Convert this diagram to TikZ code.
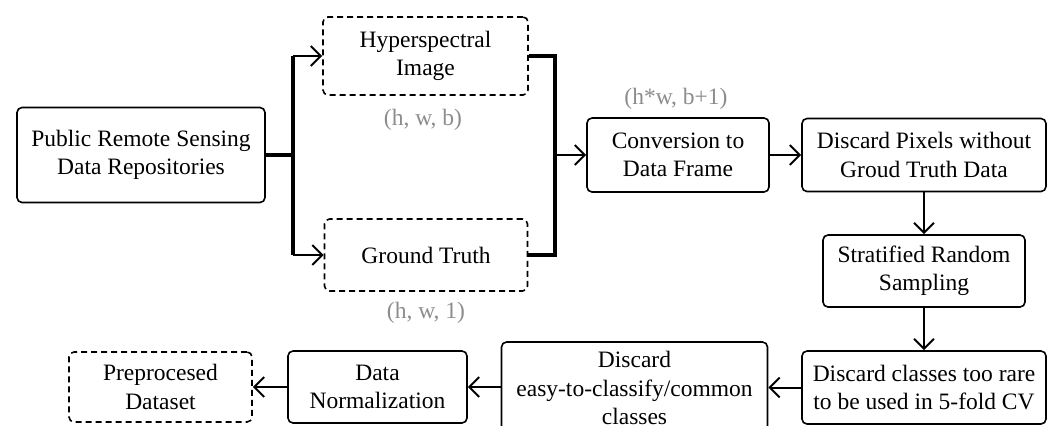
\documentclass[tikz,border=0pt]{standalone}
\usepackage{fontspec}
\setmainfont{Liberation Serif}
\usetikzlibrary{arrows.meta,positioning}
\tikzset{
    raw flow box/.style={rectangle, draw, line width=0.8pt, rounded corners=2.5pt, inner sep=0pt, align=center},
    proc box/.style={raw flow box, black, fill=white},
    data box/.style={raw flow box, black, dash pattern=on 3pt off 2pt},
    dim label/.style={text=black!45},
    bus/.style={line width=1.8pt},
    flow/.style={->, line width=1pt}
}

\begin{document}
\begin{tikzpicture}[x=0.5pt, y=-0.5pt, >={Straight Barb[length=5pt, width=10pt, line width=1pt]},
	font=\fontsize{11.75pt}{14.2pt}\selectfont]
	\clip (0,0) rectangle (1054,425);
		% sources
		\node[proc box, minimum width=124pt, minimum height=47.5pt] (src) at (141,155) {Public Remote Sensing\\Data Repositories};
		\node[data box, minimum width=102.5pt, minimum height=39pt] (hsi) at (425.5,56) {Hyperspectral\\Image};
		\node[data box, minimum width=101.5pt, minimum height=36pt] (gt) at (426,255) {Ground Truth};
		\node[dim label] (hsidim) at (423,120) {(h, w, b)};
		\node[dim label] (gtdim) at (426,313) {(h, w, 1)};
		% processing
		\node[proc box, minimum width=91pt, minimum height=37pt] (conv) at (678,155) {Conversion to\\Data Frame};
		\node[dim label] (convdim) at (676,99) {(h*w, b+1)};
		\node[proc box, minimum width=122pt, minimum height=36.5pt] (dpx) at (924,155) {Discard Pixels without\\Groud Truth Data};
		\node[proc box, minimum width=101pt, minimum height=36pt] (strat) at (924,271) {Stratified Random\\Sampling};
		\node[proc box, minimum width=122pt, minimum height=36.5pt] (dcr) at (924,387.5) {Discard classes too rare\\to be used in 5-fold CV};
		\node[proc box, minimum width=133pt, minimum height=46pt] (dec) at (634.5,388) {Discard\\easy-to-classify/common\\classes};
		\node[proc box, minimum width=89.5pt, minimum height=36pt] (norm) at (377.5,387) {Data\\Normalization};
		\node[data box, minimum width=91.5pt, minimum height=35pt] (out) at (160.5,387) {Preprocesed\\Dataset};
		% fork and merge
		\coordinate (fork) at (293,155);
		\coordinate (merge) at (555,155);
		\draw[bus] (src.east) -- (fork);
		\draw[bus] (fork |- hsi.west) -- (fork |- gt.west);
		\draw[flow] (fork |- hsi.west) -- (hsi.west);
		\draw[flow] (fork |- gt.west) -- (gt.west);
		\draw[bus] (hsi.east) -| (merge) |- (gt.east);
		\draw[flow] (merge) -- (conv.west);
		% pipeline
		\draw[flow] (conv) -- (dpx);
		\draw[flow] (dpx) -- (strat);
		\draw[flow] (strat) -- (dcr);
		\draw[flow] (dcr.west) -- (dec.east |- dcr.west);
		\draw[flow] (dec.west |- norm.east) -- (norm.east);
		\draw[flow] (norm) -- (out);
\end{tikzpicture}
\end{document}
